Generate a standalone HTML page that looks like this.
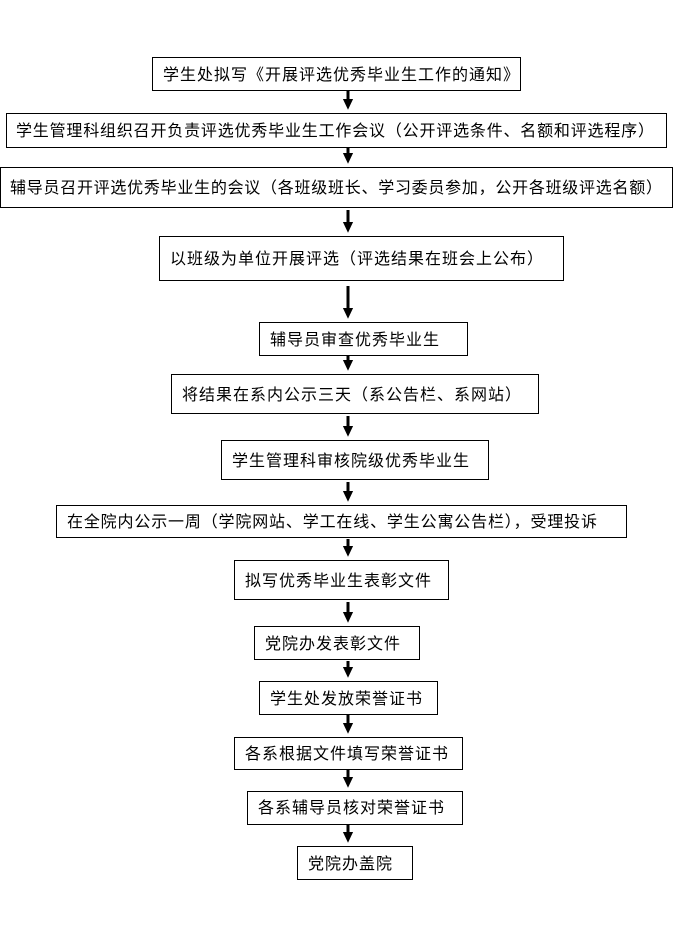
<!DOCTYPE html>
<html><head><meta charset="utf-8"><style>
html,body{margin:0;padding:0;background:#fff;}
svg text{font-family:"Liberation Sans","Noto Sans CJK SC","WenQuanYi Zen Hei",sans-serif;font-size:16px;fill:#000;letter-spacing:1px;}
</style></head><body>
<svg width="673" height="942" viewBox="0 0 673 942" xmlns="http://www.w3.org/2000/svg">
<defs><marker id="a" markerWidth="4" markerHeight="4" refX="2" refY="2" orient="auto" markerUnits="strokeWidth"><path d="M0,0.3 L3.6,2 L0,3.7 Z" fill="#000"/></marker></defs>
<g fill="#fff" stroke="#000" stroke-width="1">
<rect x="152.5" y="57.5" width="368" height="33"/>
<rect x="6.5" y="113.5" width="660" height="34"/>
<rect x="0.5" y="167.5" width="672" height="40"/>
<rect x="159.5" y="236.5" width="404" height="44"/>
<rect x="259.5" y="322.5" width="208" height="33"/>
<rect x="171.5" y="374.5" width="367" height="39"/>
<rect x="221.5" y="440.5" width="267" height="39"/>
<rect x="56.5" y="505.5" width="570" height="32"/>
<rect x="234.5" y="560.5" width="214" height="39"/>
<rect x="254.5" y="626.5" width="165" height="33"/>
<rect x="259.5" y="681.5" width="178" height="33"/>
<rect x="234.5" y="737.5" width="228" height="32"/>
<rect x="247.5" y="791.5" width="215" height="33"/>
<rect x="297.5" y="846.5" width="115" height="33"/>
</g>
<g stroke="#000" stroke-width="3" marker-end="url(#a)">
<line x1="348" y1="91" x2="348" y2="105"/>
<line x1="348" y1="148" x2="348" y2="159"/>
<line x1="348" y1="210" x2="348" y2="228"/>
<line x1="348" y1="286" x2="348" y2="314"/>
<line x1="348" y1="356" x2="348" y2="366"/>
<line x1="348" y1="416" x2="348" y2="432"/>
<line x1="348" y1="482" x2="348" y2="497"/>
<line x1="348" y1="539" x2="348" y2="552"/>
<line x1="348" y1="602" x2="348" y2="618"/>
<line x1="348" y1="661" x2="348" y2="673"/>
<line x1="348" y1="715" x2="348" y2="729"/>
<line x1="348" y1="770" x2="348" y2="783"/>
<line x1="348" y1="825" x2="348" y2="838"/>
</g>
<text x="163" y="80">学生处拟写《开展评选优秀毕业生工作的通知》</text>
<text x="16" y="136" textLength="638" lengthAdjust="spacing" style="letter-spacing:0">学生管理科组织召开负责评选优秀毕业生工作会议（公开评选条件、名额和评选程序）</text>
<text x="10" y="193" textLength="652" lengthAdjust="spacing" style="letter-spacing:0">辅导员召开评选优秀毕业生的会议（各班级班长、学习委员参加，公开各班级评选名额）</text>
<text x="170" y="264">以班级为单位开展评选（评选结果在班会上公布）</text>
<text x="270" y="345">辅导员审查优秀毕业生</text>
<text x="182" y="400">将结果在系内公示三天（系公告栏、系网站）</text>
<text x="232" y="466">学生管理科审核院级优秀毕业生</text>
<text x="67" y="527" textLength="530" lengthAdjust="spacing" style="letter-spacing:0">在全院内公示一周（学院网站、学工在线、学生公寓公告栏），受理投诉</text>
<text x="245" y="586">拟写优秀毕业生表彰文件</text>
<text x="265" y="649">党院办发表彰文件</text>
<text x="270" y="704">学生处发放荣誉证书</text>
<text x="245" y="759">各系根据文件填写荣誉证书</text>
<text x="258" y="813">各系辅导员核对荣誉证书</text>
<text x="308" y="869">党院办盖院</text>
</svg>
</body></html>
